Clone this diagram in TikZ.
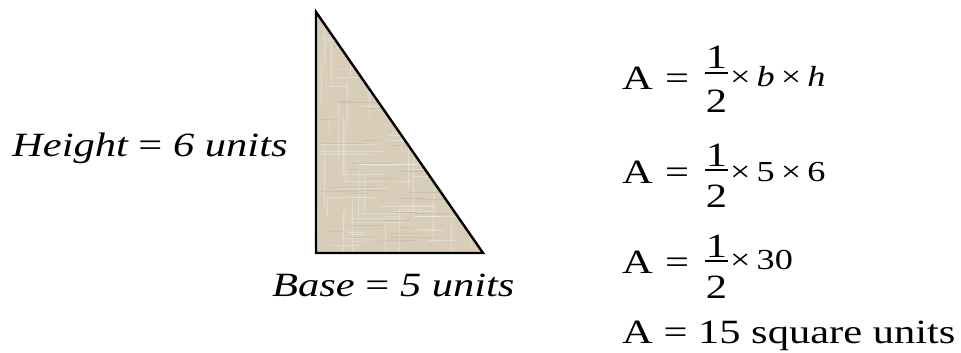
\documentclass[tikz,border=0pt]{standalone}
\usepackage{fontspec}
\setmainfont{Liberation Serif}
\usepackage{graphicx}
\definecolor{trifill}{RGB}{215,205,185}
\definecolor{weavedark}{RGB}{170,158,138}
\newcommand{\hs}[1]{\scalebox{1.25}[1]{#1}}
\begin{document}
\begin{tikzpicture}[x=1pt,y=-1pt,
  txt/.style={inner sep=0pt, anchor=base west, font=\fontsize{34}{40}\selectfont},
  smalltxt/.style={inner sep=0pt, anchor=base west, font=\fontsize{29}{34}\selectfont},
  fracnum/.style={inner sep=0pt, anchor=base, font=\fontsize{34}{40}\selectfont},
  fracbar/.style={line width=1.4pt},
  edge/.style={line width=2.4pt, line join=miter},
  weavelight/.style={white, opacity=0.3, line width=0.8pt},
  weavedk/.style={weavedark, opacity=0.25, line width=0.8pt}]
\useasboundingbox (0,0) rectangle (961,353);
% triangle
\coordinate (T) at (316,12);
\coordinate (BL) at (316,253);
\coordinate (BR) at (483,253);
\fill[trifill] (T) -- (BL) -- (BR) -- cycle;
\begin{scope}
  \clip (T) -- (BL) -- (BR) -- cycle;
  \pgfmathsetseed{17}
  \foreach \i in {1,...,70} {
    \pgfmathsetmacro{\yy}{12+241*rnd}
    \pgfmathsetmacro{\xa}{316+120*rnd}
    \pgfmathsetmacro{\ln}{15+50*rnd}
    \draw[weavelight] (\xa,\yy) -- ++(\ln,0);
  }
  \foreach \i in {1,...,45} {
    \pgfmathsetmacro{\xx}{316+167*rnd}
    \pgfmathsetmacro{\ya}{12+220*rnd}
    \pgfmathsetmacro{\ln}{15+50*rnd}
    \draw[weavelight] (\xx,\ya) -- ++(0,\ln);
  }
  \foreach \i in {1,...,50} {
    \pgfmathsetmacro{\yy}{12+241*rnd}
    \pgfmathsetmacro{\xa}{316+120*rnd}
    \pgfmathsetmacro{\ln}{10+40*rnd}
    \draw[weavedk] (\xa,\yy) -- ++(\ln,0);
  }
\end{scope}
\draw[edge] (T) -- (BL) -- (BR) -- cycle;
% labels
\node[txt] (height) at (12,156) {\hs{\itshape Height \upshape= \itshape 6 units}};
\node[txt] (base) at (272,296) {\hs{\itshape Base \upshape= \itshape 5 units}};
% line 1
\node[txt] (a1) at (622,89) {\hs{A}};
\node[txt] (e1) at (665,89) {\hs{=}};
\coordinate (b1l) at (705,73); \coordinate (b1r) at (728,73);
\draw[fracbar] (b1l) -- (b1r);
\node[fracnum] (n1) at (716.5,69) {\hs{1}};
\node[fracnum] (d1) at (716.5,112) {\hs{2}};
\node[smalltxt] (r1) at (730,86) {\hs{×\,\textit{b}\,×\,\textit{h}}};
% line 2
\node[txt] (a2) at (622,183) {\hs{A}};
\node[txt] (e2) at (665,183) {\hs{=}};
\coordinate (b2l) at (705,170); \coordinate (b2r) at (728,170);
\draw[fracbar] (b2l) -- (b2r);
\node[fracnum] (n2) at (716.5,166) {\hs{1}};
\node[fracnum] (d2) at (716.5,207) {\hs{2}};
\node[smalltxt] (r2) at (730,181) {\hs{×\,5\,×\,6}};
% line 3
\node[txt] (a3) at (622,273) {\hs{A}};
\node[txt] (e3) at (665,273) {\hs{=}};
\coordinate (b3l) at (705,261); \coordinate (b3r) at (728,261);
\draw[fracbar] (b3l) -- (b3r);
\node[fracnum] (n3) at (716.5,257) {\hs{1}};
\node[fracnum] (d3) at (716.5,298) {\hs{2}};
\node[smalltxt] (r3) at (730,269) {\hs{×\,30}};
% line 4
\node[txt] (a4) at (622,343) {\hs{A = 15 square units}};
\end{tikzpicture}
\end{document}
